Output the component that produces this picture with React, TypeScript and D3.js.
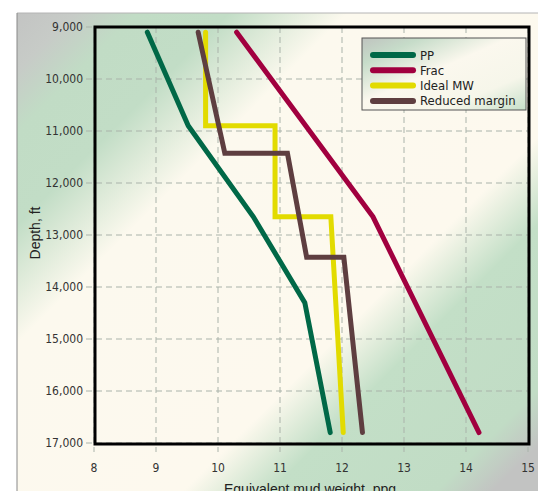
import * as d3 from "d3";

const W = 538;
const H = 491;

const xTicks = [8, 9, 10, 11, 12, 13, 14, 15];
const yTicks = [9000, 10000, 11000, 12000, 13000, 14000, 15000, 16000, 17000];

// [mud weight ppg, depth ft]
const ppData: [number, number][] = [
  [8.86, 9100], [9.52, 10900], [10.57, 12650], [11.4, 14300], [11.81, 16800],
];
const fracData: [number, number][] = [
  [10.3, 9100], [12.5, 12650], [14.21, 16800],
];
const idealData: [number, number][] = [
  [9.8, 9100], [9.8, 10900], [10.92, 10900], [10.92, 12650], [11.82, 12650], [12.02, 16800],
];
const reducedData: [number, number][] = [
  [9.68, 9100], [10.11, 11430], [11.12, 11430], [11.43, 13430], [12.03, 13430], [12.33, 16800],
];

const seriesNames = ["PP", "Frac", "Ideal MW", "Reduced margin"];
const seriesColors = ["#006847", "#a1003f", "#e2db00", "#5e3e40"];
const seriesData = [ppData, fracData, idealData, reducedData];

const narrow = "'Liberation Sans Narrow', 'DejaVu Sans Condensed', 'Liberation Sans', Arial, sans-serif";
const sans = "'Liberation Sans', Arial, sans-serif";

export default function App() {
  const x = d3.scaleLinear().domain([8, 15]).range([94, 528]);
  const y = d3.scaleLinear().domain([9000, 17000]).range([27, 443]);

  const line = d3.line<[number, number]>()
    .x((d) => x(d[0]))
    .y((d) => y(d[1]));

  const legendX = 362;
  const legendY = 38;

  return (
    <svg
      width={W}
      height={H}
      style={{ position: "absolute", left: 0, top: 0, background: "#ffffff" }}
    >
      <defs>
        <linearGradient id="bg" gradientUnits="userSpaceOnUse" x1="0" y1="0" x2="515" y2="515">
          <stop offset="0.03" stopColor="#c3c4c3" />
          <stop offset="0.085" stopColor="#c7cbc7" />
          <stop offset="0.145" stopColor="#c1dcc5" />
          <stop offset="0.235" stopColor="#c2ddc6" />
          <stop offset="0.35" stopColor="#fcf9ee" />
          <stop offset="0.655" stopColor="#fdf9ee" />
          <stop offset="0.74" stopColor="#c3dfc7" />
          <stop offset="0.9" stopColor="#c1dcc5" />
          <stop offset="0.955" stopColor="#c2c3c2" />
        </linearGradient>
        <linearGradient id="legbg" x1="0" y1="0" x2="1" y2="1">
          <stop offset="0" stopColor="#bfc3bf" />
          <stop offset="0.18" stopColor="#c6dcc9" />
          <stop offset="0.45" stopColor="#fbf8ee" />
          <stop offset="0.75" stopColor="#f6f6ea" />
          <stop offset="1" stopColor="#c6e0ca" />
        </linearGradient>
      </defs>

      <rect x={17} y={13} width={W - 17} height={H - 13} fill="url(#bg)" />
      <line x1={17} y1={13} x2={W} y2={13} stroke="#b4b4b4" strokeWidth={1} />
      <line x1={17} y1={13} x2={17} y2={H} stroke="#888" strokeWidth={1} />

      {/* grid */}
      {xTicks.map((t) => (
        <line
          key={"gx" + t}
          x1={x(t)}
          x2={x(t)}
          y1={27}
          y2={452}
          stroke="#aab3aa"
          strokeWidth={1}
          strokeDasharray="6,4"
        />
      ))}
      {yTicks.map((t) => (
        <line
          key={"gy" + t}
          x1={86}
          x2={530}
          y1={y(t)}
          y2={y(t)}
          stroke="#aab3aa"
          strokeWidth={1}
          strokeDasharray="6,4"
        />
      ))}

      {/* tick labels */}
      {xTicks.map((t) => (
        <text
          key={"tx" + t}
          x={x(t)}
          y={472}
          textAnchor="middle"
          fontFamily={narrow}
          fontSize={12}
          fill="#333"
        >
          {t}
        </text>
      ))}
      {yTicks.map((t) => (
        <text
          key={"ty" + t}
          x={83}
          y={y(t) + 4}
          textAnchor="end"
          fontFamily={narrow}
          fontSize={12}
          fill="#333"
        >
          {d3.format(",")(t)}
        </text>
      ))}

      {/* series */}
      {seriesData.map((d, i) => (
        <path
          key={seriesNames[i]}
          d={line(d) ?? ""}
          fill="none"
          stroke={seriesColors[i]}
          strokeWidth={5}
          strokeLinecap="round"
          strokeLinejoin="miter"
        />
      ))}

      {/* frame */}
      <rect x={95} y={27} width={434} height={417} fill="none" stroke="#000" strokeWidth={3} />

      {/* legend */}
      <rect
        x={legendX}
        y={legendY}
        width={164}
        height={72}
        fill="url(#legbg)"
        stroke="#555"
        strokeWidth={1}
      />
      {seriesNames.map((name, i) => (
        <g key={"leg" + name}>
          <line
            x1={legendX + 11}
            x2={legendX + 51}
            y1={legendY + 17 + i * 15.3}
            y2={legendY + 17 + i * 15.3}
            stroke={seriesColors[i]}
            strokeWidth={6}
            strokeLinecap="round"
          />
          <text
            x={legendX + 58}
            y={legendY + 21.5 + i * 15.3}
            fontFamily={narrow}
            fontSize={13}
            fill="#222"
          >
            {name}
          </text>
        </g>
      ))}

      {/* axis titles */}
      <text
        x={310}
        y={494}
        textAnchor="middle"
        fontFamily={sans}
        fontSize={14}
        fill="#222"
      >
        Equivalent mud weight, ppg
      </text>
      <text
        transform="translate(40,233) rotate(-90)"
        textAnchor="middle"
        fontFamily={sans}
        fontSize={14}
        fill="#222"
      >
        Depth, ft
      </text>
    </svg>
  );
}
